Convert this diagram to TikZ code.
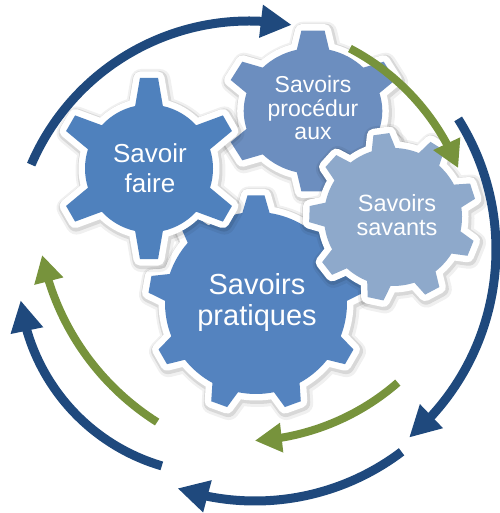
\documentclass[tikz,border=0pt]{standalone}
\usepackage{fontspec}
\setmainfont{Liberation Sans}
\usetikzlibrary{arrows.meta,bending}
\definecolor{cfaire}{HTML}{4F81BD}
\definecolor{cprat}{HTML}{5483BF}
\definecolor{cproc}{HTML}{6C8EBF}
\definecolor{csav}{HTML}{8EA9CB}
\definecolor{cblue}{HTML}{1F497D}
\definecolor{cgreen}{HTML}{77933C}
% gear outline: #1 teeth, #2 rotation, #3 outer R, #4 inner r, #5 tip half-angle, #6 base half-angle
\newcommand\gearoutline[6]{%
  ({#2-#6}:#4)
  \foreach \k in {1,...,#1}{
    -- ({#2+(\k-1)*360/#1-#5}:#3) -- ({#2+(\k-1)*360/#1+#5}:#3)
    -- ({#2+(\k-1)*360/#1+#6}:#4)
    arc[start angle={#2+(\k-1)*360/#1+#6}, end angle={#2+\k*360/#1-#6}, radius=#4]
  } -- cycle}
% #1 cx, #2 cy, #3 colour, #4..#9 outline parameters
\newcommand\mygear[9]{%
  \path[shift={(#1+1.5,#2+2)}, draw=black, draw opacity=0.06, line width=22pt, line join=round]
    \gearoutline{#4}{#5}{#6}{#7}{#8}{#9};
  \path[shift={(#1+1,#2+1.5)}, draw=black, draw opacity=0.10, line width=17pt, line join=round]
    \gearoutline{#4}{#5}{#6}{#7}{#8}{#9};
  \path[shift={(#1,#2)}, draw=white, line width=13pt, line join=round]
    \gearoutline{#4}{#5}{#6}{#7}{#8}{#9};
  \path[shift={(#1,#2)}, fill=#3]
    \gearoutline{#4}{#5}{#6}{#7}{#8}{#9};
}
\tikzset{
  gtext/.style={text=white, align=center, inner sep=0pt},
  bluearc/.style={draw=cblue, line width=9pt, -{Triangle[length=31pt,width=31pt]}},
  greenarc/.style={draw=cgreen, line width=8pt, -{Triangle[length=27pt,width=28pt]}}
}
\begin{document}
\begin{tikzpicture}[x=1pt,y=-1pt]
\useasboundingbox (0,0) rectangle (499,513);
% gears (back to front)
\mygear{256}{303}{cprat}{9}{-90}{108}{91}{4.5}{8.6}
\begin{scope}[shift={(313,111)}, xscale=1.1]
  \mygear{0}{0}{cproc}{6}{-90}{81}{63}{7.5}{13.5}
\end{scope}
\mygear{149}{168.5}{cfaire}{6}{-90}{91}{64}{5.7}{12.5}
\mygear{393}{217}{csav}{9}{22}{84}{69}{5.5}{10}
% labels
\node[gtext, font=\fontsize{29}{31}\selectfont] (prat) at (257,302) {Savoirs\\pratiques};
\node[gtext, font=\fontsize{23}{23.5}\selectfont] (proc) at (313,108) {Savoirs\\procédur\\aux};
\node[gtext, font=\fontsize{26}{30}\selectfont] (faire) at (150,168) {Savoir\\faire};
\node[gtext, font=\fontsize{23.5}{23.5}\selectfont] (sav) at (397,215) {Savoirs\\savants};
% blue arrows
\draw[bluearc] ([shift={(249,258)}]-156.8:237) arc[start angle=-156.8, end angle=-79.6, radius=237];
\draw[bluearc] ([shift={(250,250)}]-32.2:246) arc[start angle=-32.2, end angle=49.7, radius=246];
\draw[bluearc] ([shift={(255,258)}]52.9:243) arc[start angle=52.9, end angle=108.6, radius=243];
\draw[bluearc] ([shift={(218,275)}]106.4:199) arc[start angle=106.4, end angle=172.7, radius=199];
% green arrows
\draw[greenarc] ([shift={(242,255)}]-62.4:233) arc[start angle=-62.4, end angle=-21.9, radius=233];
\draw[greenarc] ([shift={(242,204)}]48.9:237) arc[start angle=48.9, end angle=86.9, radius=237];
\draw[greenarc] ([shift={(295,204)}]122.3:258) arc[start angle=122.3, end angle=168.6, radius=258];
\end{tikzpicture}
\end{document}
